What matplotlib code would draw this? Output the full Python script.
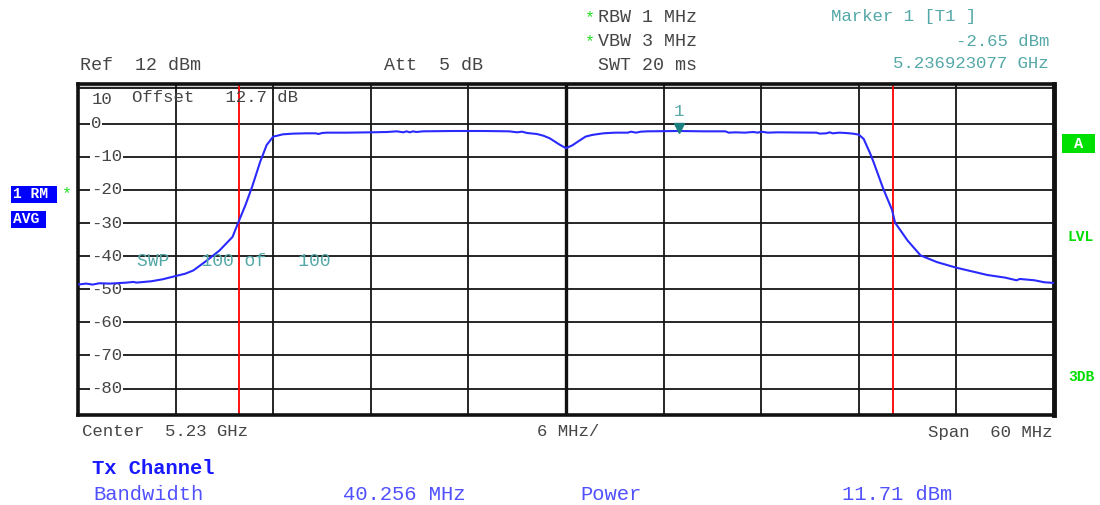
import matplotlib
matplotlib.use("Agg")
import matplotlib.pyplot as plt
from matplotlib.patches import Rectangle
from matplotlib.transforms import blended_transform_factory

# ---------------- data ----------------
freq_ghz = [5.2000, 5.2005, 5.2009, 5.2013, 5.2020, 5.2030, 5.2034, 5.2036, 5.2045,
            5.2052, 5.2061, 5.2066, 5.2071, 5.2079, 5.2087, 5.2095, 5.20984, 5.2103,
            5.2107, 5.2112, 5.2116, 5.2120, 5.2126, 5.2132, 5.2140, 5.2146, 5.2148,
            5.2150, 5.2153, 5.2165, 5.2180, 5.2190, 5.2196, 5.2200, 5.2202, 5.2204,
            5.2206, 5.2208, 5.2212, 5.2230, 5.2250, 5.2265, 5.2270, 5.2273, 5.2276,
            5.2282, 5.2286, 5.2290, 5.2296, 5.2300, 5.2304, 5.2307, 5.2312, 5.2316,
            5.2320, 5.2323, 5.2330, 5.2338, 5.2340, 5.2343, 5.2346, 5.2350, 5.23692,
            5.2385, 5.2398, 5.2400, 5.2404, 5.2410, 5.2415, 5.2418, 5.2420, 5.2424,
            5.2430, 5.2454, 5.2456, 5.2460, 5.2462, 5.2464, 5.2468, 5.2472, 5.24765,
            5.2480, 5.2483, 5.2487, 5.2489, 5.2495, 5.25004, 5.25023, 5.2510, 5.2518,
            5.2528, 5.2540, 5.2559, 5.2570, 5.2577, 5.2579, 5.2588, 5.2594, 5.2600]
level_dbm = [-48.6, -48.3, -48.6, -48.2, -48.3, -48.0, -47.8, -48.0, -47.6,
             -47.0, -45.9, -45.3, -44.3, -41.4, -38.3, -34.2, -30.0, -24.5,
             -19.1, -11.5, -6.4, -3.9, -3.2, -3.0, -2.9, -2.9, -3.1,
             -2.8, -2.7, -2.7, -2.6, -2.5, -2.3, -2.6, -2.3, -2.6,
             -2.3, -2.5, -2.3, -2.2, -2.2, -2.3, -2.6, -2.4, -2.8,
             -3.1, -3.6, -4.4, -6.3, -7.4, -6.5, -5.5, -3.9, -3.4,
             -3.1, -2.9, -2.7, -2.7, -2.4, -2.7, -2.4, -2.3, -2.2,
             -2.3, -2.3, -2.7, -2.6, -2.7, -2.5, -2.7, -2.4, -2.7,
             -2.6, -2.7, -3.0, -2.9, -2.6, -2.9, -2.7, -2.8, -3.0,
             -3.3, -4.6, -9.0, -11.5, -19.6, -26.0, -29.9, -35.3, -39.8,
             -41.8, -43.5, -45.7, -46.5, -47.3, -46.9, -47.3, -47.9, -48.1]

center_ghz = 5.23
span_ghz = 0.060
ref_level = 12
bottom_level = -88
y_tick_values = [0, -10, -20, -30, -40, -50, -60, -70, -80]
y_tick_labels = ["0", "-10", "-20", "-30", "-40", "-50", "-60", "-70", "-80"]
red_lines_ghz = [5.209872, 5.250128]
marker_freq = 5.236923077
marker_level = -2.65

# ---------------- styling ----------------
W, H = 1100, 505
MONO = "Liberation Mono"
GRAY = "#454545"
TEAL = "#55a8a8"
GREEN = "#22dd22"
BLUE_T = "#1a1aff"
BLUE_L = "#5050ff"

fig = plt.figure(figsize=(W / 100, H / 100), dpi=100)
fig.patch.set_facecolor("white")

L, R, T, B = 78, 1054, 84, 415
ax = fig.add_axes([L / W, 1 - B / H, (R - L) / W, (B - T) / H])
x0 = center_ghz - span_ghz / 2
x1 = center_ghz + span_ghz / 2
ax.set_xlim(x0, x1)
ax.set_ylim(bottom_level, ref_level)

xt = [x0 + i * span_ghz / 10 for i in range(11)]
ax.set_xticks(xt)
ax.set_yticks(y_tick_values)
ax.tick_params(length=0, labelbottom=False, labelleft=False)
ax.grid(True, color="#151515", lw=1.3)
ax.set_axisbelow(True)
for s in ax.spines.values():
    s.set_linewidth(2.6)
    s.set_color("#111111")
ax.spines["right"].set_linewidth(3.5)

# top double line
ax.axhspan(10.9, ref_level, color="#cfcfcf", lw=0, zorder=0.5)
ax.axhline(10.9, color="#111111", lw=1.3, zorder=0.6)
# thicker center line
ax.axvline(center_ghz, color="#111111", lw=2.4, zorder=0.7)

# red lines
for f in red_lines_ghz:
    ax.axvline(f, color="#ff0000", lw=1.3, zorder=2)

# trace
ax.plot(freq_ghz, level_dbm, color="#2a2aff", lw=1.5, zorder=3)

# marker
ax.plot([marker_freq], [marker_level + 1.4], marker="v", ms=7.5, color="#1c7f7f",
        zorder=4, linestyle="none")
ax.text(marker_freq, 3.6, "1", color=TEAL, fontsize=12.5, family=MONO,
        ha="center", va="center", zorder=4)

# y labels
ytr = blended_transform_factory(ax.transAxes, ax.transData)
lx = (91 - L) / (R - L)
for v, lab in zip(y_tick_values, y_tick_labels):
    ax.text(lx, v, lab, transform=ytr, ha="left", va="center", fontsize=12.5,
            family=MONO, color=GRAY, zorder=2.5,
            bbox=dict(facecolor="white", edgecolor="none", pad=0.6))


def ftext(x, y, s, **kw):
    kw.setdefault("family", MONO)
    kw.setdefault("fontsize", 12.5)
    kw.setdefault("color", GRAY)
    kw.setdefault("va", "center")
    return fig.text(x / W, 1 - y / H, s, **kw)


def frect(x, y, w, h, color):
    fig.patches.append(Rectangle((x / W, 1 - (y + h) / H), w / W, h / H,
                                 transform=fig.transFigure, facecolor=color,
                                 edgecolor="none", zorder=5))


ftext(92, 100, "10", zorder=6)
ftext(132, 97, "Offset   12.7 dB", zorder=6)
ftext(137, 262, "SWP   100 of   100", color=TEAL, zorder=6, fontsize=13)

# header
HS = 13.2
ftext(80, 66, "Ref  12 dBm", fontsize=HS)
ftext(384, 66, "Att  5 dB", fontsize=HS)
ftext(590, 18, "*", color=GREEN, ha="center", fontsize=12)
ftext(590, 42, "*", color=GREEN, ha="center", fontsize=12)
ftext(598, 18, "RBW 1 MHz", fontsize=HS)
ftext(598, 42, "VBW 3 MHz", fontsize=HS)
ftext(598, 65, "SWT 20 ms", fontsize=HS)
ftext(831, 17, "Marker 1 [T1 ]", color=TEAL)
ftext(1049, 41, "-2.65 dBm", color=TEAL, ha="right")
ftext(1049, 64, "5.236923077 GHz", color=TEAL, ha="right")

# left badges
frect(11, 186, 46, 17, "#0000ff")
ftext(13, 194.5, "1 RM", color="white", fontweight="bold", fontsize=10.5, zorder=6)
frect(11, 211, 35, 17, "#0000ff")
ftext(13, 219.5, "AVG", color="white", fontweight="bold", fontsize=10.5, zorder=6)
ftext(67, 194, "*", color=GREEN, ha="center", fontsize=12)

# right badges
frect(1062, 134, 33, 19, "#00e000")
ftext(1078.5, 143.5, "A", color="white", fontweight="bold", ha="center",
      fontsize=11, zorder=6)
ftext(1081, 237, "LVL", color="#00dd00", fontweight="bold", ha="center", fontsize=10.5)
ftext(1081, 377, "3DB", color="#00dd00", fontweight="bold", ha="center", fontsize=10.5)

# bottom
ftext(82, 432, "Center  5.23 GHz")
ftext(537, 432, "6 MHz/")
ftext(1052, 432, "Span  60 MHz", ha="right")

BS = 14.8
ftext(92, 469, "Tx Channel", color=BLUE_T, fontweight="bold", fontsize=BS)
ftext(93, 495, "Bandwidth", color=BLUE_L, fontsize=BS)
ftext(343, 495, "40.256 MHz", color=BLUE_L, fontsize=BS)
ftext(580, 495, "Power", color=BLUE_L, fontsize=BS)
ftext(842, 495, "11.71 dBm", color=BLUE_L, fontsize=BS)

fig.savefig("out.png", dpi=100, facecolor="white")
